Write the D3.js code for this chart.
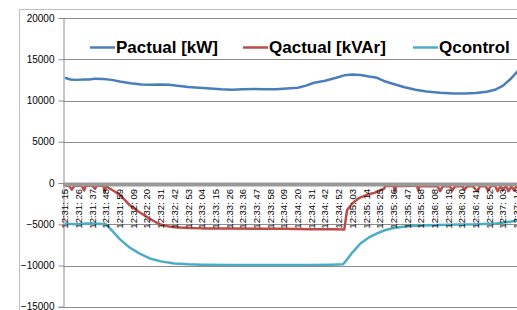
<!DOCTYPE html>
<html>
<head>
<meta charset="utf-8">
<script src="https://cdn.jsdelivr.net/npm/d3@7"></script>
<style>
  body { margin: 0; background: #fff; }
  svg { display: block; font-family: "Liberation Sans", Arial, sans-serif; }
</style>
</head>
<body>
<div class="chart"></div>
<script>
'use strict';

// category tick labels (one every 10 samples)
var timeLabels = ['12:31: 15', '12:31: 26', '12:31: 37', '12:31: 48', '12:31: 59', '12:32: 09',
  '12:32: 20', '12:32: 31', '12:32: 42', '12:32: 53', '12:33: 04', '12:33: 15', '12:33: 26',
  '12:33: 36', '12:33: 47', '12:33: 58', '12:34: 09', '12:34: 20', '12:34: 31', '12:34: 42',
  '12:34: 52', '12:35: 03', '12:35: 14', '12:35: 25', '12:35: 36', '12:35: 47', '12:35: 58',
  '12:36: 08', '12:36: 19', '12:36: 30', '12:36: 41', '12:36: 52', '12:37: 03', '12:37: 14'];

var yTicks = [20000, 15000, 10000, 5000, 0, -5000, -10000, -15000];

// sample index / value pairs
var pIdx = [0, 4, 8, 14, 18, 22, 28, 34, 40, 48, 56, 62, 70, 76, 82, 90, 98, 106, 114, 122, 130,
  138, 146, 154, 162, 170, 176, 182, 190, 198, 204, 210, 216, 222, 228, 234, 240, 248, 256, 264,
  274, 284, 292, 300, 308, 314, 320, 326, 332, 340, 345];
var pVal = [12750, 12550, 12500, 12550, 12550, 12650, 12600, 12500, 12300, 12100, 11950, 11900,
  11950, 11900, 11800, 11650, 11550, 11450, 11350, 11300, 11350, 11400, 11350, 11350, 11450,
  11550, 11800, 12150, 12400, 12750, 13050, 13150, 13100, 12900, 12750, 12300, 12000, 11600,
  11300, 11100, 10950, 10850, 10850, 10900, 11050, 11300, 11800, 12700, 13800, 14700, 15300];

var qaIdx = [0, 3, 5, 7, 10, 12, 14, 15, 17, 20, 22, 23, 26, 28, 29, 30, 32, 36, 40, 44, 47, 51,
  55, 62, 69, 75, 80, 90, 100, 120, 140, 160, 180, 195, 204, 206, 210, 215, 221, 226, 230, 233,
  234, 240, 241, 242, 250, 257, 258, 259, 266, 272, 274, 276, 281, 283, 285, 290, 292, 294, 298,
  301, 303, 307, 309, 311, 314, 316, 318, 320, 322, 324, 326, 328, 330, 332, 334, 337, 339, 345];
var qaVal = [-300, -350, -800, -300, -350, -300, -900, -400, -300, -350, -700, -350, -300, -350,
  -1000, -400, -600, -1000, -1450, -2100, -2650, -3150, -3600, -4350, -5000, -5250, -5350, -5450,
  -5500, -5500, -5550, -5550, -5600, -5600, -5650, -3300, -2450, -1800, -1400, -1200, -900, -700,
  -350, -350, -1000, -350, -350, -300, -900, -350, -400, -350, -1000, -350, -400, -900, -400,
  -350, -800, -350, -400, -1000, -400, -350, -900, -400, -300, -1000, -400, -800, -350, -1000,
  -400, -900, -300, -1000, -400, -900, -350, -400];

var qcIdx = [0, 8, 16, 24, 30, 34, 40, 47, 55, 62, 70, 80, 90, 100, 120, 140, 160, 180, 195, 203,
  204, 210, 216, 222, 228, 234, 240, 250, 260, 280, 300, 315, 325, 335, 345];
var qcVal = [-4950, -5000, -4900, -4950, -5000, -5700, -6800, -7800, -8600, -9150, -9500, -9750,
  -9850, -9900, -9950, -9950, -9950, -9950, -9900, -9850, -9700, -8400, -7300, -6600, -6100,
  -5700, -5450, -5250, -5150, -5050, -5000, -4900, -4700, -4400, -4100];

var seriesNames = ['Pactual [kW]', 'Qactual [kVAr]', 'Qcontrol'];
var colors = ['#4a7ebb', '#be4b48', '#4bacc6'];

var width = 517, height = 310;

var svg = d3.select('.chart').append('svg')
  .attr('width', width)
  .attr('height', height);

// chart frame
svg.append('rect')
  .attr('x', 19.5).attr('y', 9.5)
  .attr('width', 600).attr('height', 400)
  .attr('fill', '#fff')
  .attr('stroke', '#bfbfbf');

var x = d3.scaleLinear()
  .domain([0, 330])
  .range([65, 516.8]);

var y = d3.scaleLinear()
  .domain([-15000, 20000])
  .range([306.75, 18]);

// gridlines
svg.append('g')
  .selectAll('line')
  .data(yTicks.filter(function(d) { return d !== 0; }))
  .enter().append('line')
  .attr('x1', 63).attr('x2', 620)
  .attr('y1', function(d) { return Math.round(y(d)) + 0.5; })
  .attr('y2', function(d) { return Math.round(y(d)) + 0.5; })
  .attr('stroke', '#8c8c8c')
  .attr('stroke-width', 1);

// value axis
var yAxis = svg.append('g')
  .attr('transform', 'translate(63.5,0)')
  .call(d3.axisLeft(y).tickValues(yTicks).tickSize(5).tickPadding(4).tickFormat(d3.format('d')));
yAxis.select('.domain').attr('stroke', '#8c8c8c');
yAxis.selectAll('.tick line').attr('stroke', '#8c8c8c');
yAxis.selectAll('.tick text')
  .attr('font-family', '"Liberation Sans", Arial, sans-serif')
  .attr('font-size', 10)
  .attr('fill', '#000');

// lines
var line = d3.line()
  .x(function(d) { return x(d[0]); })
  .y(function(d) { return y(d[1]); });

var seriesData = [
  d3.zip(pIdx, pVal),
  d3.zip(qaIdx, qaVal),
  d3.zip(qcIdx, qcVal)
];

svg.append('clipPath').attr('id', 'plot')
  .append('rect').attr('x', 64).attr('y', 10).attr('width', 600).attr('height', 300);

// draw teal, then red, then blue on top
[2, 1, 0].forEach(function(i) {
  svg.append('path')
    .datum(seriesData[i])
    .attr('clip-path', 'url(#plot)')
    .attr('fill', 'none')
    .attr('stroke', colors[i])
    .attr('stroke-width', 2.5)
    .attr('stroke-linejoin', 'round')
    .attr('d', line);
});

// category axis at zero with dense tick marks
var y0 = Math.round(y(0));
svg.append('rect')
  .attr('x', 63).attr('y', y0 - 0.5)
  .attr('width', 600).attr('height', 4)
  .attr('fill', '#999');

svg.append('g')
  .selectAll('text')
  .data(timeLabels)
  .enter().append('text')
  .attr('transform', function(d, i) {
    return 'translate(' + (x(i * 10) + 3.3) + ',' + (y0 + 6) + ') rotate(-90)';
  })
  .attr('text-anchor', 'end')
  .attr('font-size', 9.5)
  .attr('fill', '#000')
  .text(function(d) { return d; });

// legend
var legendX = [90, 243, 413];
var legend = svg.append('g');
seriesNames.forEach(function(name, i) {
  legend.append('line')
    .attr('x1', legendX[i]).attr('x2', legendX[i] + 25)
    .attr('y1', 47.5).attr('y2', 47.5)
    .attr('stroke', colors[i])
    .attr('stroke-width', 2.5);
  legend.append('text')
    .attr('x', legendX[i] + 26)
    .attr('y', 53)
    .attr('font-size', 17)
    .attr('font-weight', 'bold')
    .attr('fill', '#000')
    .text(name);
});
</script>
</body>
</html>
